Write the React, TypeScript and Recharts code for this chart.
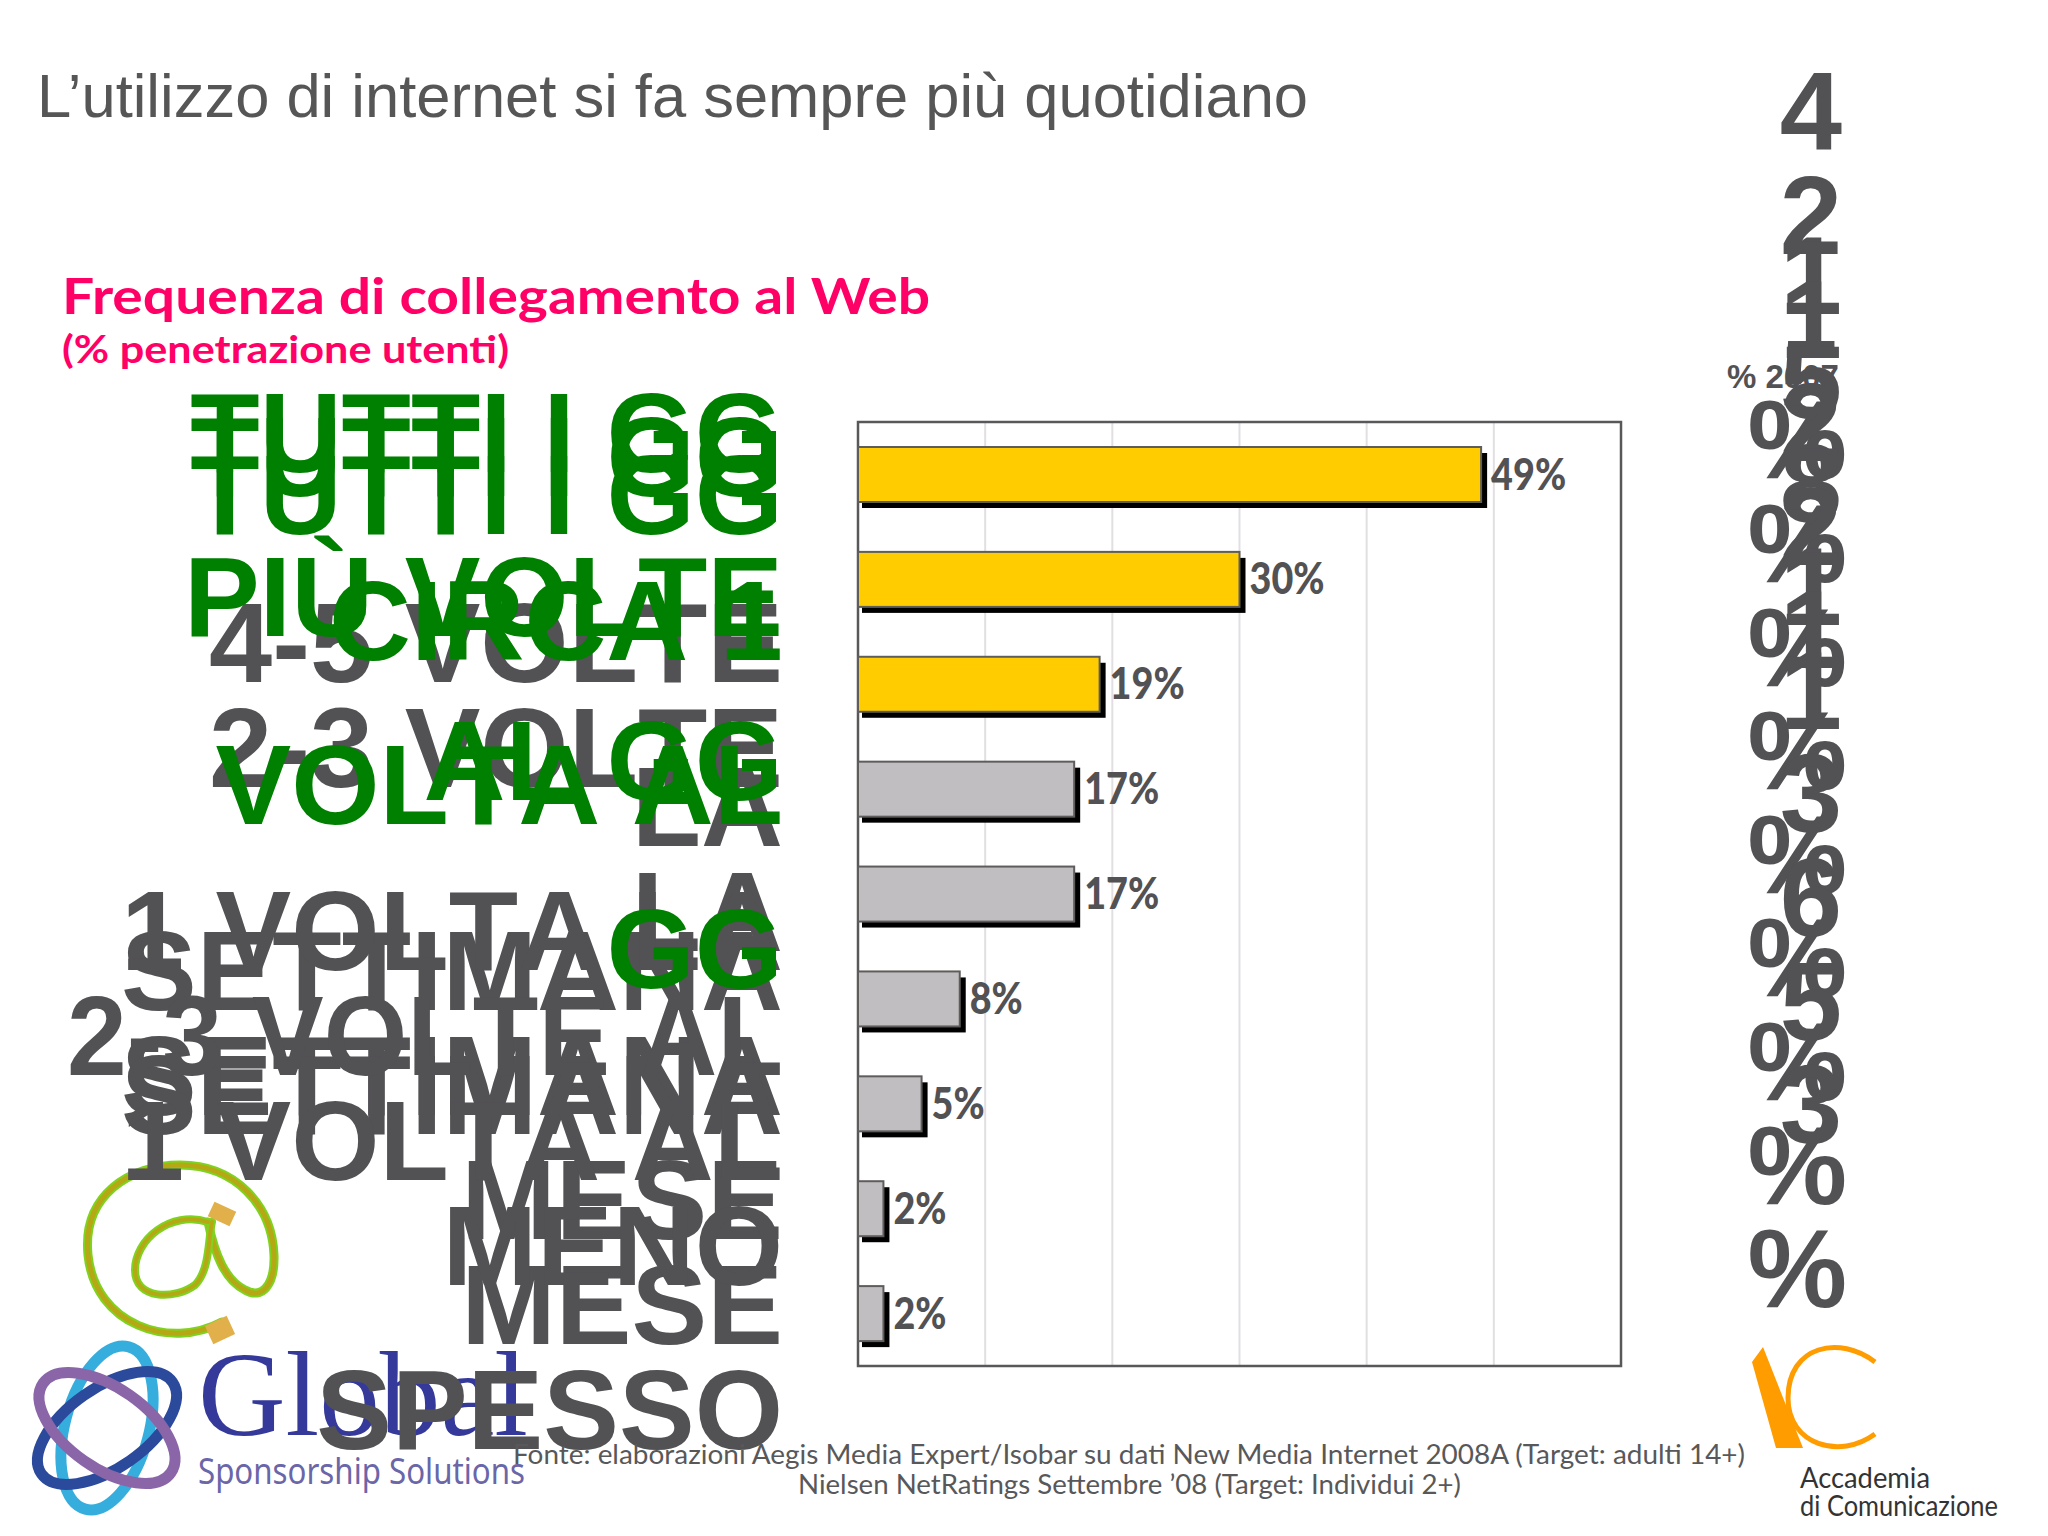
import { BarChart, Bar, XAxis, YAxis, CartesianGrid, LabelList, ReferenceArea } from 'recharts';

// axis labels, "|" marks the line breaks of the original slide
const categories = [
  'TUTTI I GG',
  'TUTTI I GG|PIÙ VOLTE|AL GG',
  'TUTTI I GG|CIRCA 1|VOLTA AL|GG',
  '4-5 VOLTE|LA|SETTIMANA',
  '2-3 VOLTE|LA|SETTIMANA',
  '1 VOLTA LA|SETTIMANA',
  '2-3 VOLTE AL|MESE',
  '1 VOLTA AL|MESE',
  'MENO|SPESSO',
];
const values2008 = [49, 30, 19, 17, 17, 8, 5, 2, 2];
const values2007 = ['41%', '25%', '18%', '21%', '21%', '13%', '6%', '5%', '3%'];
const xTicks = [0, 10, 20, 30, 40, 50, 60];

const data = categories.map((category, i) => ({ category, value: values2008[i] }));

const GREY = '#525154';
const GREEN = '#008000';
const LABEL_SIZE = 113.5;
// the slide wraps the labels with a line height far bigger than the rows
const LINE_HEIGHT = 164;
// first baseline relative to the row centre, by number of lines
const FIRST_LINE_DY: Record<number, number> = { 1: 60, 2: -29, 3: -107, 4: -188 };

// green rows go on their own axis so they paint over the grey ones, as on the slide
function LeftTick({ y, index, payload, green }: any) {
  if (green !== index < 3) return <g />;
  const lines: string[] = payload.value.split('|');
  const firstBaseline = y + FIRST_LINE_DY[lines.length];
  return (
    <g>
      {lines.map((line, i) => (
        <text
          key={i}
          x={783}
          y={firstBaseline + i * LINE_HEIGHT}
          textAnchor="end"
          fontFamily="'Liberation Sans', Arial, sans-serif"
          fontWeight={700}
          fontSize={LABEL_SIZE}
          fill={green ? GREEN : GREY}
          style={{ fontKerning: 'none' }}
          // this one line runs tighter on the slide
          {...(line === '2-3 VOLTE AL' ? { textLength: 716, lengthAdjust: 'spacingAndGlyphs' } : {})}
        >
          {line}
        </text>
      ))}
    </g>
  );
}

// previous year column: too narrow on the slide, so every character wraps
function RightTick({ y, index }: any) {
  const chars = values2007[index].split('');
  const lastBaseline = y + 4 - 1.3 * index;
  return (
    <g>
      {chars.map((ch, i) => (
        <text
          key={i}
          x={ch === '%' ? 1847 : 1842}
          y={lastBaseline - (chars.length - 1 - i) * LINE_HEIGHT}
          textAnchor="end"
          fontFamily="'Liberation Sans', Arial, sans-serif"
          fontWeight={700}
          fontSize={112}
          fill={GREY}
        >
          {ch}
        </text>
      ))}
    </g>
  );
}

function ShadowBar({ x, y, width, height, index }: any) {
  return (
    <g>
      <rect x={x + 4} y={y + 6} width={width + 2} height={height} fill="#000000" />
      <rect
        x={x}
        y={y}
        width={width}
        height={height}
        fill={index < 3 ? '#ffcc00' : '#c1bec1'}
        stroke="#5f5d5c"
        strokeWidth={2}
      />
    </g>
  );
}

// squeezed like the slide's condensed Century Gothic
function ValueLabel({ x, y, width, height, value }: any) {
  const text = `${value}%`;
  return (
    <text
      x={x + width + 10}
      y={y + height / 2 + 15}
      fontFamily="Lato, sans-serif"
      fontWeight={900}
      fontSize={43}
      fill={GREY}
      textLength={text.length === 3 ? 75 : 53}
      lengthAdjust="spacingAndGlyphs"
    >
      {text}
    </text>
  );
}

function Logos() {
  return (
    <svg width={2048} height={1536} style={{ position: 'absolute', left: 0, top: 0 }}>
      {/* @ made of cable */}
      <g fill="none" strokeLinecap="round">
        <path d="M222 1322 C170 1350 95 1325 88 1255 C82 1195 130 1165 180 1165 C235 1165 272 1205 274 1255 C275 1285 262 1300 245 1290 C225 1280 215 1255 208 1222" stroke="#7ed321" strokeWidth={9} />
        <path d="M222 1322 C170 1350 95 1325 88 1255 C82 1195 130 1165 180 1165 C235 1165 272 1205 274 1255 C275 1285 262 1300 245 1290 C225 1280 215 1255 208 1222" stroke="#b5a814" strokeWidth={5} />
        <path d="M208 1222 C170 1210 135 1240 135 1270 C135 1300 175 1300 195 1285 C210 1270 208 1240 212 1222" stroke="#7ed321" strokeWidth={8} />
        <path d="M208 1222 C170 1210 135 1240 135 1270 C135 1300 175 1300 195 1285 C210 1270 208 1240 212 1222" stroke="#b5a814" strokeWidth={4} />
      </g>
      <rect x={210} y={1206} width={24} height={16} fill="#e2b04a" transform="rotate(25 222 1214)" />
      <rect x={208} y={1320} width={24} height={20} fill="#e2b04a" transform="rotate(-25 220 1330)" />

      {/* Global Sponsorship Solutions */}
      <g fill="none" strokeWidth={11}>
        <ellipse cx={107} cy={1428} rx={42} ry={84} stroke="#35aede" transform="rotate(15 107 1428)" />
        <ellipse cx={107} cy={1428} rx={40} ry={80} stroke="#2b4a9b" transform="rotate(55 107 1428)" />
        <ellipse cx={107} cy={1428} rx={40} ry={78} stroke="#8a66a8" transform="rotate(-55 107 1428)" />
      </g>
      <text x={198} y={1435} fontFamily="'Liberation Serif', serif" fontSize={120} fill="#34399a" textLength={330} lengthAdjust="spacingAndGlyphs">
        Global
      </text>
      <text x={198} y={1484} fontFamily="'Noto Sans', sans-serif" fontSize={36} fill="#6a66a8" textLength={327} lengthAdjust="spacingAndGlyphs">
        Sponsorship Solutions
      </text>

      {/* Accademia di Comunicazione */}
      <polygon points="1752,1362 1763,1347 1803,1448 1776,1448" fill="#ff9c00" />
      <path d="M1875 1362 C1840 1335 1788 1345 1788 1398 C1788 1445 1840 1460 1875 1434" fill="none" stroke="#ff9c00" strokeWidth={5} />
      <text x={1800} y={1488} fontFamily="Lato, sans-serif" fontSize={28} fill="#333333" textLength={130} lengthAdjust="spacingAndGlyphs">
        Accademia
      </text>
      <text x={1800} y={1516} fontFamily="Lato, sans-serif" fontSize={28} fill="#333333" textLength={198} lengthAdjust="spacingAndGlyphs">
        di Comunicazione
      </text>
    </svg>
  );
}

function SlideText() {
  return (
    <svg width={2048} height={1536} style={{ position: 'absolute', left: 0, top: 0, pointerEvents: 'none' }}>
      <text x={37} y={117} fontFamily="'Liberation Sans', Arial, sans-serif" fontSize={61} fill="#565656" textLength={1271} lengthAdjust="spacingAndGlyphs">
        L’utilizzo di internet si fa sempre più quotidiano
      </text>
      <text x={62} y={314} fontFamily="Lato, sans-serif" fontWeight={700} fontSize={50} fill="#ff0066" textLength={868} lengthAdjust="spacingAndGlyphs">
        Frequenza di collegamento al Web
      </text>
      <text x={62} y={363} fontFamily="Lato, sans-serif" fontWeight={700} fontSize={38} fill="#ff0066" textLength={447} lengthAdjust="spacingAndGlyphs">
        (% penetrazione utenti)
      </text>
      <text x={1727} y={388} fontFamily="'Liberation Sans', Arial, sans-serif" fontWeight={700} fontSize={33} fill={GREY}>
        % 2007
      </text>
      <text x={513} y={1464} fontFamily="Lato, sans-serif" fontSize={27} fill="#58585a" textLength={1232} lengthAdjust="spacingAndGlyphs">
        Fonte: elaborazioni Aegis Media Expert/Isobar su dati New Media Internet 2008A (Target: adulti 14+)
      </text>
      <text x={798} y={1494} fontFamily="Lato, sans-serif" fontSize={27} fill="#58585a" textLength={663} lengthAdjust="spacingAndGlyphs">
        Nielsen NetRatings Settembre ’08 (Target: Individui 2+)
      </text>
    </svg>
  );
}

export default function App() {
  return (
    <div style={{ position: 'absolute', left: 0, top: 0, width: 2048, height: 1536, background: '#ffffff', overflow: 'hidden' }}>
      <Logos />
      <div style={{ position: 'absolute', left: 0, top: 0 }}>
        <BarChart
          width={2048}
          height={1536}
          data={data}
          layout="vertical"
          margin={{ top: 422, right: 0, bottom: 169, left: 0 }}
        >
          <CartesianGrid horizontal={false} stroke="#e2dfe3" strokeWidth={2} />
          <XAxis
            type="number"
            domain={[0, 60]}
            ticks={xTicks}
            interval={0}
            tick={() => <g />}
            tickLine={false}
            axisLine={false}
            height={1}
          />
          <YAxis
            type="category"
            dataKey="category"
            width={857}
            interval={0}
            tick={<LeftTick green={false} />}
            tickLine={false}
            axisLine={false}
          />
          <YAxis
            yAxisId="green"
            type="category"
            dataKey="category"
            width={1}
            interval={0}
            tick={<LeftTick green={true} />}
            tickLine={false}
            axisLine={false}
          />
          <YAxis
            yAxisId="right"
            orientation="right"
            type="category"
            dataKey="category"
            width={427}
            interval={0}
            tick={<RightTick />}
            tickLine={false}
            axisLine={false}
          />
          <Bar dataKey="value" barSize={55} shape={<ShadowBar />} isAnimationActive={false}>
            <LabelList dataKey="value" content={<ValueLabel />} />
          </Bar>
          <ReferenceArea x1={0} x2={60} fill="none" stroke="#58585a" strokeWidth={2.5} />
        </BarChart>
      </div>
      <SlideText />
    </div>
  );
}
